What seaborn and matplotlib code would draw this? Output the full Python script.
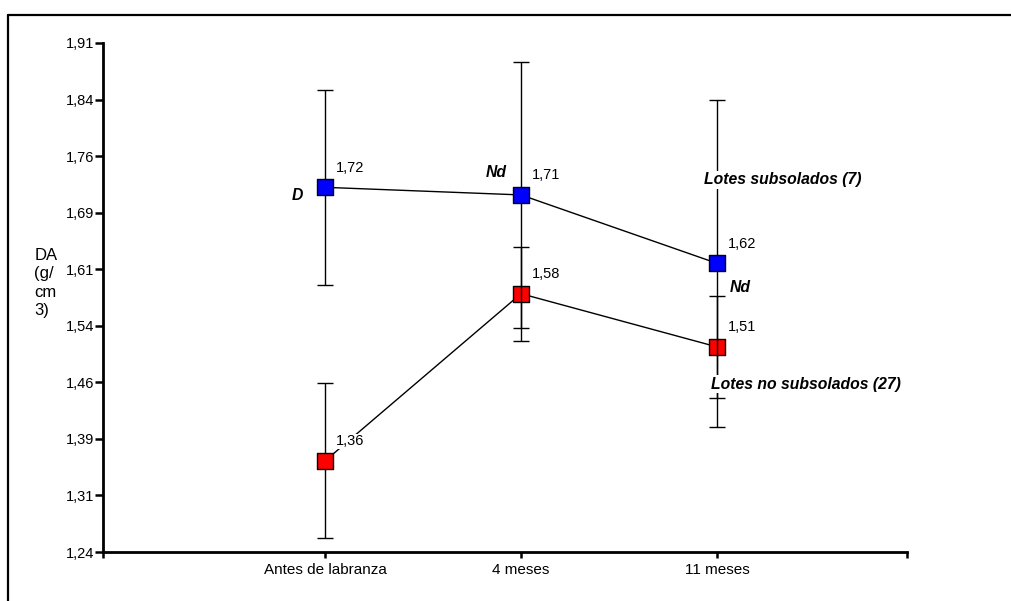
import numpy as np
import pandas as pd
import matplotlib
matplotlib.use("Agg")
import matplotlib.pyplot as plt
from matplotlib.lines import Line2D
import seaborn as sns

# Bulk density (DA, g/cm3) by sampling time
categories = ["Antes de labranza", "4 meses", "11 meses"]
subsolados = [1.72, 1.71, 1.62]
subsolados_err = [0.128, 0.175, 0.215]
no_subsolados = [1.36, 1.58, 1.51]
no_subsolados_err = [0.102, 0.062, 0.067]
ytick_labels = ["1,24", "1,31", "1,39", "1,46", "1,54", "1,61", "1,69", "1,76", "1,84", "1,91"]
sig_subsolados = ["D", "Nd", None]
sig_no_subsolados = [None, None, "Nd"]
series_names = ["Lotes subsolados (7)", "Lotes no subsolados (27)"]

sns.set_theme(style="white")
plt.rcParams["font.family"] = ["Liberation Sans", "DejaVu Sans"]

fig = plt.figure(figsize=(10.11, 6.01), dpi=100)
ax = fig.add_axes([0.1019, 0.0815, 0.7951, 0.847])

xpos = np.arange(len(categories))
df = pd.DataFrame({
    "x": np.concatenate([xpos, xpos]),
    "DA": subsolados + no_subsolados,
    "err": subsolados_err + no_subsolados_err,
    "grupo": [series_names[0]] * 3 + [series_names[1]] * 3,
})
colors = {series_names[0]: "#0000FF", series_names[1]: "#FF0000"}

# connecting lines
sns.lineplot(data=df, x="x", y="DA", units="grupo", estimator=None, color="black",
             linewidth=1.0, ax=ax, zorder=1, legend=False)

# the unsubsoiled series goes first, the subsoiled one is drawn over it
layer = {series_names[1]: 2, series_names[0]: 4}
for name in (series_names[1], series_names[0]):
    sub = df[df["grupo"] == name]
    ax.errorbar(sub["x"], sub["DA"], yerr=sub["err"], fmt="none", ecolor="black",
                elinewidth=1.0, capsize=5.5, capthick=1.0, zorder=layer[name])
    sns.scatterplot(data=sub, x="x", y="DA", color=colors[name], marker="s",
                    s=120, edgecolor="black", linewidth=1.0, ax=ax,
                    zorder=layer[name] + 0.5, legend=False)

def fmt(v):
    return f"{v:.2f}".replace(".", ",")

# value labels
for vals in (subsolados, no_subsolados):
    for xi, v in zip(xpos, vals):
        bbox = None
        if v == no_subsolados[0] and vals is no_subsolados:
            bbox = dict(facecolor="white", edgecolor="none", pad=0.5)
        ax.annotate(fmt(v), (xi, v), xytext=(7.5, 14), textcoords="offset points",
                    ha="left", va="center", fontsize=10.5, color="black", zorder=6, bbox=bbox)

bold_it = dict(fontsize=11.3, fontweight="bold", fontstyle="italic", color="black", zorder=6)

# significance marks
ax.annotate(sig_subsolados[0], (xpos[0], subsolados[0]), xytext=(-16, -6),
            textcoords="offset points", ha="right", va="center", **bold_it)
ax.annotate(sig_subsolados[1], (xpos[1], subsolados[1]), xytext=(-10, 16),
            textcoords="offset points", ha="right", va="center", **bold_it)
ax.annotate(sig_no_subsolados[2], (xpos[2], subsolados[2]), xytext=(9.5, -17.5),
            textcoords="offset points", ha="left", va="center", **bold_it)

# series labels
ax.annotate(series_names[0], (xpos[2], subsolados[2]), xytext=(-9, 60),
            textcoords="offset points", ha="left", va="center",
            bbox=dict(facecolor="white", edgecolor="none", pad=1), **bold_it)
ax.annotate(series_names[1], (xpos[2], no_subsolados[2]), xytext=(-4.5, -27),
            textcoords="offset points", ha="left", va="center",
            bbox=dict(facecolor="white", edgecolor="none", pad=1), **bold_it)

# axes
ymin, ymax = 1.24, 1.91
ax.set_ylim(ymin, ymax)
ax.set_yticks(np.linspace(ymin, ymax, len(ytick_labels)))
ax.set_yticklabels(ytick_labels, fontsize=10.5)
xmin, xmax = -1.133, 2.969
ax.set_xlim(xmin, xmax)
ax.set_xticks([xmin, *xpos, xmax])
ax.set_xticklabels(["", *categories, ""], fontsize=11)
ax.set_xlabel("")
ax.set_ylabel("")

for side in ("top", "right"):
    ax.spines[side].set_visible(False)
for side in ("left", "bottom"):
    ax.spines[side].set_color("black")
    ax.spines[side].set_linewidth(2.0)
ax.tick_params(axis="y", direction="out", length=6, width=1.8, pad=0.5, colors="black", left=True)
ax.tick_params(axis="x", direction="out", length=4, width=1.8, pad=4, colors="black", bottom=True)
ax.grid(False)

fig.text(0.034, 1 - 283 / 601, "DA\n(g/\ncm\n3)", fontsize=12, ha="left", va="center",
         linespacing=1.3, color="black")

# outer frame
y_top = 1 - 15 / 601
x_left = 8 / 1011
fig.add_artist(Line2D([x_left, 1.0], [y_top, y_top], color="black", lw=1.6,
                      transform=fig.transFigure))
fig.add_artist(Line2D([x_left, x_left], [y_top, 0.0], color="black", lw=1.6,
                      transform=fig.transFigure))

fig.savefig("out.png", dpi=100)
